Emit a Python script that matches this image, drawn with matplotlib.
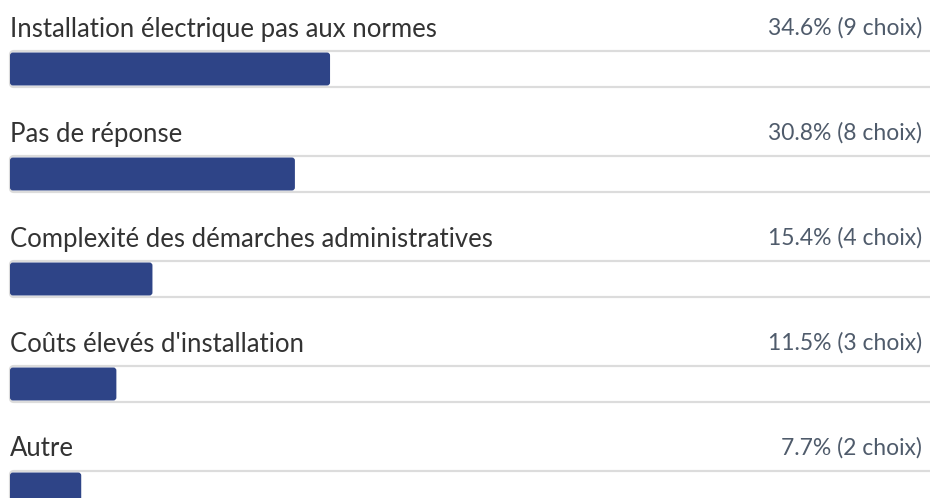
import matplotlib
matplotlib.use("Agg")
import matplotlib.pyplot as plt
from matplotlib.patches import FancyBboxPatch

# données
labels = [
    "Installation électrique pas aux normes",
    "Pas de réponse",
    "Complexité des démarches administratives",
    "Coûts élevés d'installation",
    "Autre",
]
pourcentages = [34.6, 30.8, 15.4, 11.5, 7.7]
choix = [9, 8, 4, 3, 2]

plt.rcParams['font.family'] = ['Lato', 'DejaVu Sans']

W, H = 930, 498
fig = plt.figure(figsize=(W / 100, H / 100), dpi=100)
ax = fig.add_axes([0, 0, 1, 1])

# échelle : 0-100 % sur 925 px à partir de x=10 ; une ligne = 105 px
px_x = 100 / 925
px_y = 1 / 105
ax.set_xlim(-10 * px_x, (W - 10) * px_x)
ax.set_ylim((H - 69) * px_y, -69 * px_y)
ax.axis('off')

track_h = 36 * px_y
fill_h = 33 * px_y
aspect = px_y / px_x

for i, (lab, p, n) in enumerate(zip(labels, pourcentages, choix)):
    # fond de la barre
    ax.add_patch(FancyBboxPatch((0, i - track_h / 2), 100, track_h,
                                boxstyle="round,pad=0,rounding_size=%f" % (4 * px_x),
                                mutation_aspect=aspect,
                                facecolor='white', edgecolor='#dcdcdc', linewidth=1.6))
    # remplissage
    ax.add_patch(FancyBboxPatch((0, i - fill_h / 2), p, fill_h,
                                boxstyle="round,pad=0,rounding_size=%f" % (3 * px_x),
                                mutation_aspect=aspect,
                                facecolor='#2e4487', edgecolor='none'))
    ax.text(0, i - 40 * px_y, lab, ha='left', va='center',
            fontsize=18.5, color='#333333')
    ax.text((922 - 10) * px_x, i - 41 * px_y, f"{p}% ({n} choix)",
            ha='right', va='center', fontsize=16.5, color='#4f5b6b')

fig.savefig('out.png', dpi=100)
